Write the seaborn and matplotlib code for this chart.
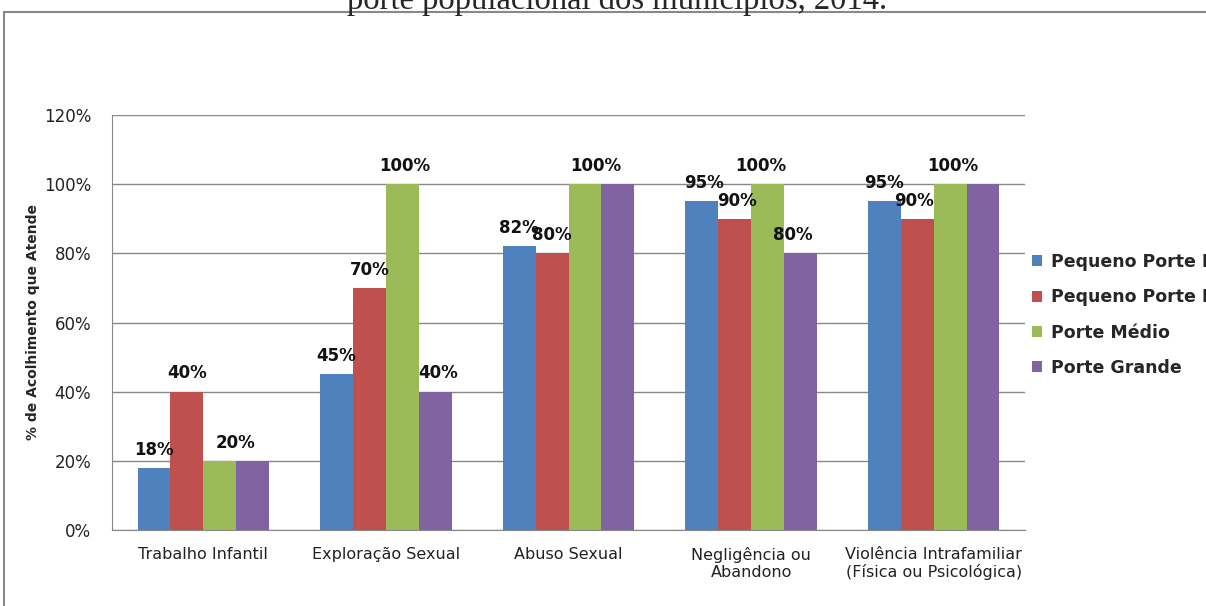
import seaborn as sns
import matplotlib.pyplot as plt
import pandas as pd
from matplotlib.patches import Rectangle

categorias = ["Trabalho Infantil", "Exploração Sexual", "Abuso Sexual",
              "Negligência ou\nAbandono", "Violência Intrafamiliar\n(Física ou Psicológica)"]
portes = ["Pequeno Porte I", "Pequeno Porte II", "Porte Médio", "Porte Grande"]
pequeno_1 = [18, 45, 82, 95, 95]
pequeno_2 = [40, 70, 80, 90, 90]
medio = [20, 100, 100, 100, 100]
grande = [20, 40, 100, 80, 100]
rotulos = {
    "Pequeno Porte I": ["18%", "45%", "82%", "95%", "95%"],
    "Pequeno Porte II": ["40%", "70%", "80%", "90%", "90%"],
    "Porte Médio": ["20%", "100%", "100%", "100%", "100%"],
    "Porte Grande": ["", "40%", "", "80%", ""],
}
# deslocamento horizontal dos rótulos (em pixels), como no original
desloc = {
    "Pequeno Porte I": [0, 0, 0, 2, 0],
    "Pequeno Porte II": [0, 0, 0, 2, -3],
    "Porte Médio": [16, 2, 11, -7, 3],
    "Porte Grande": [0, 3, 0, -8, 0],
}
cores = ["#4F81BD", "#C0504D", "#9BBB59", "#8064A2"]

df = pd.DataFrame({"categoria": categorias * 4,
                   "porte": [p for p in portes for _ in categorias],
                   "valor": pequeno_1 + pequeno_2 + medio + grande})

sns.set_style("white")
plt.rcParams['font.family'] = ['DejaVu Sans']

fig = plt.figure(figsize=(12.06, 6.06), dpi=100)
ax = fig.add_axes([112/1206, 76/606, 913/1206, 415/606])

sns.barplot(data=df, x="categoria", y="valor", hue="porte", palette=cores,
            width=0.72, gap=0, saturation=1, linewidth=0, ax=ax, legend=True, zorder=3)

for cont, p in zip(ax.containers, portes):
    for bar, lab, dx in zip(cont, rotulos[p], desloc[p]):
        if lab:
            ax.annotate(lab, (bar.get_x() + bar.get_width()/2, bar.get_height()),
                        xytext=(dx * 0.72, 9.5), textcoords="offset points", ha="center",
                        va="baseline", fontsize=12, fontweight="bold", zorder=5,
                        color="#111111")

ax.set_ylim(0, 120)
ax.set_yticks(range(0, 121, 20))
ax.set_yticklabels([f"{v}%" for v in range(0, 121, 20)], fontsize=12, color="#222222")
ax.set_xlim(-0.5, 4.5)
ax.set_xlabel("")
ax.set_ylabel("% de Acolhimento que Atende", fontsize=10, fontweight="bold")
ax.yaxis.set_label_coords(-72/913, 0.5)
ax.tick_params(axis="x", which="major", length=0, labelsize=11.5, pad=12, labelcolor="#222222")
ax.set_xticks([i - 0.5 for i in range(6)], minor=True)
ax.tick_params(axis="x", which="minor", length=7, color="#888888", direction="out")
ax.tick_params(axis="y", length=7, color="#888888", direction="out", pad=8)
ax.yaxis.grid(True, color="#888888", linewidth=1, zorder=0)
ax.set_axisbelow(True)
for s in ["top", "right"]:
    ax.spines[s].set_visible(False)
for s in ["left", "bottom"]:
    ax.spines[s].set_color("#888888")

leg = ax.legend(loc="center left", bbox_to_anchor=(1 + 7/913, 0.518), frameon=False,
                prop={"weight": "bold", "size": 12.5}, handlelength=0.6, handleheight=0.6,
                labelspacing=1.0, handletextpad=0.5, borderaxespad=0, borderpad=0)

fig.patches.append(Rectangle((4/1206, -0.1), 1.2, 1 - 12/606 + 0.1, transform=fig.transFigure,
                             fill=False, edgecolor="#888888", linewidth=1.5))
fig.text(617/1206, 1 - 9.5/606, "porte populacional dos municípios, 2014.",
         ha="center", va="baseline", fontsize=23.5, family="Liberation Serif")

fig.savefig("out.png", dpi=100)
